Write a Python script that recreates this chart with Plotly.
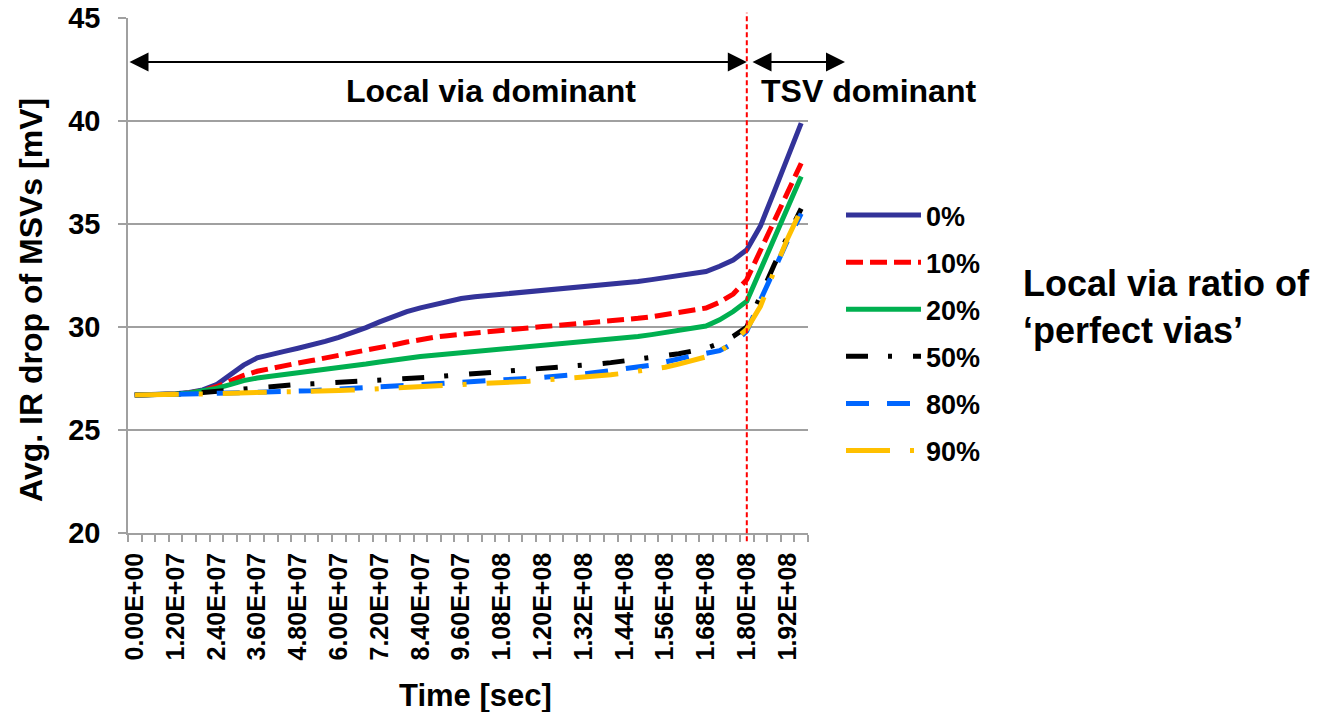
import plotly.graph_objects as go

# Simulation time samples, in units of 1e6 seconds
TIME_E6 = [0, 4, 8, 12, 16, 20, 24, 28, 32, 36, 40, 44, 48, 52, 56, 60, 64, 68, 72, 76,
           80, 84, 88, 92, 96, 100, 104, 108, 112, 116, 120, 124, 128, 132, 136, 140,
           144, 148, 152, 156, 160, 164, 168, 172, 176, 180, 184, 188, 192, 196]
TIME_S = [t * 1e6 for t in TIME_E6]

TICK_LABELS = ["0.00E+00", "1.20E+07", "2.40E+07", "3.60E+07", "4.80E+07", "6.00E+07",
               "7.20E+07", "8.40E+07", "9.60E+07", "1.08E+08", "1.20E+08", "1.32E+08",
               "1.44E+08", "1.56E+08", "1.68E+08", "1.80E+08", "1.92E+08"]

# Average IR drop of MSVs [mV] for each local via ratio of perfect vias
IR_0 = [26.70, 26.70, 26.72, 26.76, 26.82, 26.95, 27.20, 27.65, 28.15, 28.50,
        28.68, 28.82, 28.97, 29.12, 29.30, 29.50, 29.72, 29.97, 30.25, 30.52,
        30.75, 30.93, 31.10, 31.25, 31.38, 31.47, 31.53, 31.59, 31.65, 31.71,
        31.76, 31.82, 31.87, 31.91, 31.97, 32.05, 32.13, 32.21, 32.30, 32.39,
        32.49, 32.59, 32.69, 32.95, 33.25, 33.75, 34.90, 36.55, 38.20, 39.90]
IR_10 = [26.70, 26.70, 26.72, 26.75, 26.80, 26.90, 27.10, 27.40, 27.65, 27.85,
         28.00, 28.13, 28.25, 28.37, 28.49, 28.61, 28.72, 28.85, 29.00, 29.13,
         29.27, 29.40, 29.50, 29.58, 29.65, 29.72, 29.79, 29.86, 29.92, 29.97,
         30.02, 30.07, 30.12, 30.17, 30.22, 30.28, 30.35, 30.42, 30.50, 30.60,
         30.70, 30.80, 30.92, 31.20, 31.60, 32.30, 33.70, 35.10, 36.55, 37.95]
IR_20 = [26.70, 26.70, 26.72, 26.75, 26.80, 26.88, 27.02, 27.20, 27.40, 27.52,
         27.60, 27.67, 27.74, 27.82, 27.91, 28.00, 28.10, 28.20, 28.30, 28.40,
         28.49, 28.57, 28.63, 28.69, 28.75, 28.80, 28.86, 28.91, 28.96, 29.01,
         29.07, 29.13, 29.19, 29.25, 29.32, 29.39, 29.46, 29.54, 29.63, 29.73,
         29.84, 29.95, 30.05, 30.35, 30.75, 31.25, 32.80, 34.35, 35.80, 37.30]
IR_50 = [26.70, 26.70, 26.70, 26.72, 26.76, 26.82, 26.88, 26.94, 26.99, 27.06,
         27.12, 27.17, 27.21, 27.24, 27.27, 27.31, 27.35, 27.38, 27.42, 27.46,
         27.50, 27.54, 27.58, 27.63, 27.68, 27.72, 27.77, 27.82, 27.87, 27.92,
         27.96, 28.00, 28.04, 28.12, 28.20, 28.27, 28.35, 28.42, 28.50, 28.60,
         28.70, 28.83, 28.97, 29.20, 29.55, 30.00, 31.55, 33.00, 34.40, 35.75]
IR_80 = [26.70, 26.70, 26.70, 26.72, 26.74, 26.76, 26.78, 26.79, 26.80, 26.81,
         26.83, 26.86, 26.89, 26.91, 26.94, 26.97, 27.00, 27.04, 27.08, 27.12,
         27.16, 27.20, 27.24, 27.27, 27.30, 27.33, 27.37, 27.42, 27.47, 27.51,
         27.56, 27.60, 27.65, 27.72, 27.80, 27.88, 27.96, 28.05, 28.15, 28.30,
         28.48, 28.60, 28.72, 28.85, 29.20, 29.80, 31.30, 32.80, 34.20, 35.50]
IR_90 = [26.70, 26.70, 26.70, 26.71, 26.73, 26.75, 26.77, 26.78, 26.79, 26.80,
         26.82, 26.84, 26.86, 26.88, 26.90, 26.92, 26.94, 26.97, 27.00, 27.03,
         27.06, 27.08, 27.10, 27.13, 27.16, 27.20, 27.24, 27.28, 27.32, 27.37,
         27.42, 27.46, 27.51, 27.57, 27.62, 27.68, 27.76, 27.84, 27.94, 28.05,
         28.20, 28.38, 28.55, 28.80, 29.30, 29.90, 31.00, 32.70, 34.30, 35.70]

SERIES_NAMES = ["0%", "10%", "20%", "50%", "80%", "90%"]
SERIES_VALUES = [IR_0, IR_10, IR_20, IR_50, IR_80, IR_90]
SERIES_COLORS = ["#333399", "#FF0000", "#00B050", "#000000", "#0066FF", "#FFC000"]
SERIES_DASH = ["solid", "17px,7px", "solid", "22px,20px,4px,21px", "23px,18px",
               "44px,20px,4px,20px"]

BOUNDARY_S = 180e6          # transition from local-via to TSV dominated regime
ARROW_Y = 42.86             # height of the regime arrows [mV]

FONT = "Liberation Sans, Arial, sans-serif"
GRAY = "#A0A0A0"

fig = go.Figure()
for name, vals, col, dash in zip(SERIES_NAMES, SERIES_VALUES, SERIES_COLORS, SERIES_DASH):
    fig.add_trace(go.Scatter(
        x=TIME_S, y=vals, name=name, mode="lines", legendgroup=name,
        line=dict(color=col, width=5, dash=dash),
    ))

step = TIME_S[1] - TIME_S[0]
x_min = TIME_S[0] - step / 2
x_max = TIME_S[-1] + step / 2

fig.update_layout(
    width=1326, height=712,
    margin=dict(l=128, r=518, t=18, b=179, autoexpand=False),
    paper_bgcolor="white", plot_bgcolor="white",
    font=dict(family=FONT, color="black", size=20, weight="bold"),
    showlegend=True,
    legend=dict(
        x=(841 - 128) / 680, xanchor="left",
        y=(533 - 191) / 515, yanchor="top",
        font=dict(family=FONT, size=27, color="black", weight="bold"),
        itemwidth=75, tracegroupgap=9, bgcolor="rgba(0,0,0,0)",
        traceorder="grouped",
    ),
    xaxis=dict(
        range=[x_min, x_max],
        tickmode="array", tickvals=TIME_S[::3], ticktext=TICK_LABELS,
        tickangle=-90, ticks="",
        tickfont=dict(family=FONT, size=25, weight="bold", color="black"),
        ticklabelstandoff=8,
        showline=True, linecolor=GRAY, linewidth=1.5,
        showgrid=False, zeroline=False,
        minor=dict(tickmode="linear", tick0=x_min, dtick=step, ticks="outside",
                   ticklen=7, tickcolor=GRAY, tickwidth=1.5, showgrid=False),
    ),
    yaxis=dict(
        range=[20, 45], dtick=5, tick0=20,
        ticks="outside", ticklen=8, tickcolor=GRAY, tickwidth=1.5,
        tickfont=dict(family=FONT, size=29, weight="bold", color="black"),
        ticklabelstandoff=12,
        showline=True, linecolor=GRAY, linewidth=1.5,
        showgrid=True, gridcolor=GRAY, gridwidth=1.5, zeroline=False,
    ),
)

# regime boundary
fig.add_shape(type="line", xref="x", yref="paper",
              x0=BOUNDARY_S, x1=BOUNDARY_S, y0=-0.016, y1=1.01,
              line=dict(color="#FF0000", width=2, dash="5px,3px"), layer="above")

# double-headed regime arrows
fig.add_annotation(x=BOUNDARY_S, y=ARROW_Y, xref="x", yref="y",
                   ax=x_min, ay=ARROW_Y, axref="x", ayref="y", text="",
                   showarrow=True, arrowhead=2, startarrowhead=2, arrowside="end+start",
                   arrowsize=1.9, startarrowsize=1.9, arrowwidth=2, arrowcolor="black",
                   standoff=0, startstandoff=0)
fig.add_annotation(x=(845 - 128) / 680, y=ARROW_Y, xref="paper", yref="y",
                   ax=-94, ay=0, axref="pixel", ayref="pixel", text="",
                   showarrow=True, arrowhead=2, startarrowhead=2, arrowside="end+start",
                   arrowsize=1.9, startarrowsize=1.9, arrowwidth=2, arrowcolor="black",
                   standoff=0, startstandoff=0)

big = dict(family=FONT, size=32, color="black", weight="bold")
fig.add_annotation(x=(490.5 - 128) / 680, y=(533 - 91) / 515, xref="paper", yref="paper",
                   text="Local via dominant", showarrow=False, font=big,
                   xanchor="center", yanchor="middle")
fig.add_annotation(x=(868.5 - 128) / 680, y=(533 - 91) / 515, xref="paper", yref="paper",
                   text="TSV dominant", showarrow=False, font=big,
                   xanchor="center", yanchor="middle")
fig.add_annotation(x=(1021 - 128) / 680, y=(533 - 306.5) / 515, xref="paper", yref="paper",
                   text="Local via ratio of<br>\u2018perfect vias\u2019", showarrow=False,
                   font=dict(family=FONT, size=36, color="black", weight="bold"),
                   xanchor="left", yanchor="middle", align="left")

# axis titles
fig.add_annotation(x=(31 - 128) / 680, y=(533 - 300) / 515, xref="paper", yref="paper",
                   text="Avg. IR drop of MSVs [mV]", textangle=-90, showarrow=False,
                   font=dict(family=FONT, size=32, color="black", weight="bold"),
                   xanchor="center", yanchor="middle")
fig.add_annotation(x=(475 - 128) / 680, y=(533 - 695) / 515, xref="paper", yref="paper",
                   text="Time [sec]", showarrow=False,
                   font=dict(family=FONT, size=31, color="black", weight="bold"),
                   xanchor="center", yanchor="middle")

fig.write_html("out.html")
